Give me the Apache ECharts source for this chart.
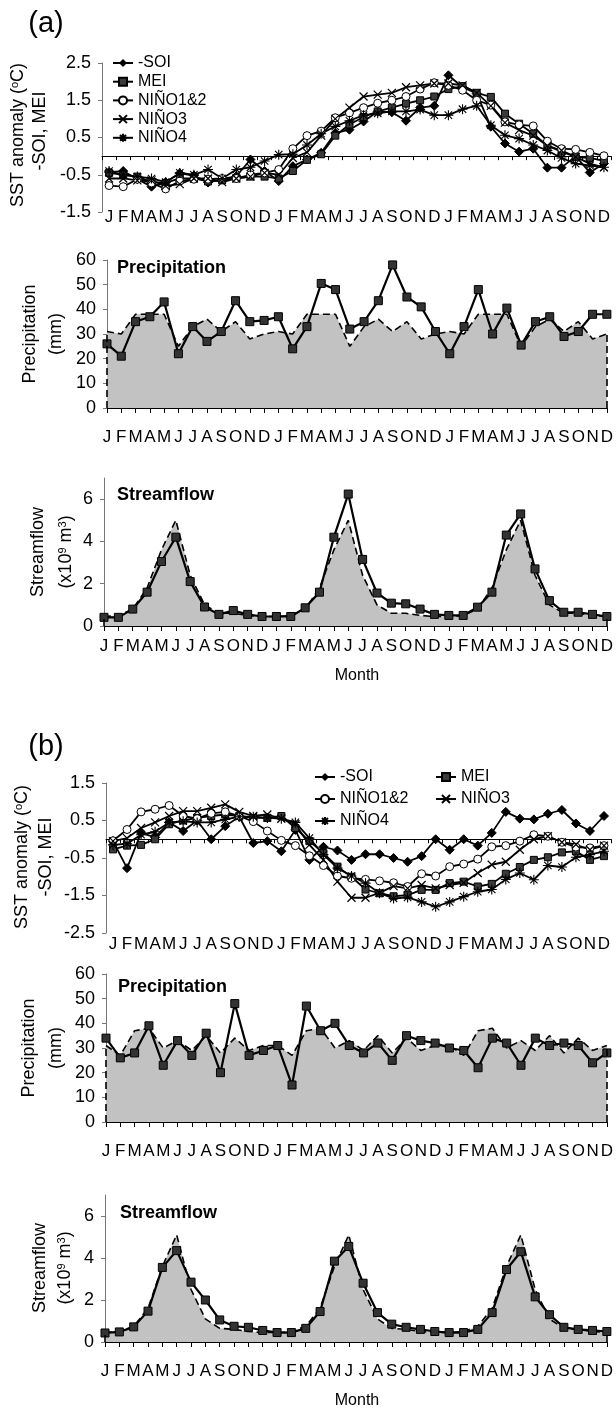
<!DOCTYPE html>
<html><head><meta charset="utf-8">
<script src="https://cdn.jsdelivr.net/npm/echarts@6/dist/echarts.min.js"></script>
<style>html,body{margin:0;padding:0;background:#fff}#c{width:616px;height:1412px}</style>
</head><body><div id="c"></div>
<script>
// ---------- categories & ticks ----------
const months = ['J','F','M','A','M','J','J','A','S','O','N','D'];
const categories = months.concat(months, months);
const sstTicksA = [-1.5, -0.5, 0.5, 1.5, 2.5];
const sstTicksB = [-2.5, -1.5, -0.5, 0.5, 1.5];
const precipTicks = [0, 10, 20, 30, 40, 50, 60];
const flowTicks = [0, 2, 4, 6];
const indexNames = ['-SOI', 'MEI', 'NIÑO1&2', 'NIÑO3', 'NIÑO4'];

// ---------- (a) SST anomaly ----------
const soiA    = [-0.43,-0.4,-0.62,-0.82,-0.7,-0.46,-0.52,-0.71,-0.62,-0.54,-0.09,-0.4,-0.67,-0.27,-0.09,0.09,0.62,0.71,0.93,1.2,1.18,0.95,1.3,1.35,2.17,1.85,1.68,0.79,0.34,0.12,0.2,-0.31,-0.31,0.0,-0.44,-0.2];
const meiA    = [-0.45,-0.5,-0.55,-0.7,-0.72,-0.6,-0.6,-0.68,-0.65,-0.6,-0.55,-0.55,-0.6,-0.4,-0.1,0.05,0.55,0.85,1.05,1.2,1.3,1.41,1.5,1.6,1.8,1.88,1.7,1.59,1.14,0.87,0.6,0.28,0.12,-0.02,-0.05,-0.13];
const nino12A = [-0.79,-0.82,-0.62,-0.72,-0.88,-0.67,-0.62,-0.62,-0.6,-0.6,-0.5,-0.45,-0.36,0.2,0.55,0.67,1.03,1.16,1.3,1.42,1.5,1.6,1.8,1.97,1.9,1.77,1.5,1.37,0.92,0.84,0.81,0.4,0.2,0.18,0.1,0.01];
const nino3A  = [-0.6,-0.6,-0.65,-0.65,-0.8,-0.75,-0.6,-0.6,-0.7,-0.6,-0.55,-0.45,-0.5,-0.05,0.1,0.55,1.0,1.3,1.6,1.65,1.7,1.85,1.9,1.95,1.95,1.9,1.7,1.35,0.9,0.7,0.55,0.28,0.15,-0.02,-0.2,-0.3];
const nino4A  = [-0.4,-0.5,-0.55,-0.6,-0.7,-0.45,-0.5,-0.36,-0.6,-0.36,-0.3,-0.13,0.04,0.05,0.3,0.6,0.8,0.95,1.1,1.15,1.2,1.2,1.25,1.1,1.1,1.26,1.35,0.83,0.56,0.47,0.3,0.15,-0.05,-0.2,-0.25,-0.3];

// ---------- (a) precipitation (mm) ----------
const precipObsA  = [26,21,35,37,43,22,33,27,31,43.5,35,35.5,37,24,33,50.5,48,32,35,43.5,58,45,41,31,22,33,48,30,40.5,25.5,35,37,29,31,38,38];
const precipClimA = [31,30,38,38,38,25,33,36,31,35,28,30,31,30,38,38,38,25,33,36,31,35,28,30,31,30,38,38,38,25,33,36,31,35,28,30];

// ---------- (a) streamflow (x10^9 m3) ----------
const flowObsA  = [0.41,0.41,0.8,1.6,3.05,4.2,2.1,0.9,0.55,0.73,0.55,0.45,0.45,0.45,0.86,1.6,4.2,6.24,3.15,1.56,1.08,1.05,0.8,0.55,0.5,0.5,0.89,1.6,4.3,5.3,2.7,1.2,0.65,0.65,0.55,0.45];
const flowClimA = [0.45,0.5,0.8,1.8,3.6,5.0,2.4,1.0,0.6,0.6,0.5,0.45,0.45,0.5,0.8,1.8,3.6,5.0,2.4,1.0,0.6,0.6,0.5,0.45,0.45,0.5,0.8,1.8,3.6,5.0,2.4,1.0,0.6,0.6,0.5,0.45];

// ---------- (b) SST anomaly ----------
const soiB    = [-0.05,-0.77,0.17,0.05,0.45,0.22,0.5,0.0,0.35,0.6,-0.1,-0.05,-0.32,0.25,-0.55,-0.2,-0.3,-0.55,-0.4,-0.4,-0.5,-0.6,-0.45,0.0,-0.28,0.0,-0.17,0.17,0.73,0.55,0.53,0.68,0.78,0.42,0.22,0.62];
const meiB    = [-0.27,-0.17,-0.15,0.0,0.4,0.5,0.57,0.62,0.66,0.62,0.57,0.57,0.62,0.3,-0.05,-0.37,-0.73,-1.0,-1.34,-1.44,-1.52,-1.49,-1.35,-1.35,-1.17,-1.13,-1.26,-1.19,-0.92,-0.74,-0.55,-0.48,-0.35,-0.32,-0.55,-0.45];
const nino12B = [-0.04,0.26,0.73,0.8,0.9,0.62,0.55,0.69,0.73,0.62,0.47,0.22,-0.03,-0.17,-0.44,-0.7,-0.98,-1.04,-1.07,-1.11,-1.16,-1.26,-0.92,-0.98,-0.73,-0.66,-0.53,-0.2,-0.17,-0.05,0.12,0.08,-0.08,-0.21,-0.23,-0.17];
const nino3B  = [-0.05,0.03,0.3,0.45,0.62,0.75,0.75,0.84,0.93,0.73,0.62,0.66,0.55,0.4,-0.15,-0.55,-1.13,-1.56,-1.56,-1.43,-1.25,-1.31,-1.22,-1.31,-1.22,-1.16,-0.9,-0.68,-0.6,-0.28,0.0,0.08,-0.08,-0.14,-0.28,-0.17];
const nino4B  = [-0.15,-0.12,0.12,0.2,0.45,0.48,0.45,0.45,0.53,0.6,0.6,0.57,0.55,0.45,0.03,-0.41,-0.77,-0.98,-1.17,-1.44,-1.58,-1.55,-1.67,-1.8,-1.67,-1.53,-1.4,-1.34,-1.07,-0.9,-1.08,-0.7,-0.74,-0.48,-0.41,-0.32];

// ---------- (b) precipitation (mm) ----------
const precipObsB  = [34,26,28,39,23,33,27,36,20,48,27,29,31,15,47,37,40,31,28,32,25,35,33,32,30,29,22,34,32,23,34,31,32,31,24,28];
const precipClimB = [31,27,37,38,30,33,29,35,28,34,29,31,31,27,37,38,30,33,29,35,28,34,29,31,31,27,37,38,30,33,29,35,28,34,29,31];

// ---------- (b) streamflow (x10^9 m3) ----------
const flowObsB  = [0.43,0.48,0.72,1.47,3.55,4.35,2.85,2.0,1.05,0.75,0.7,0.55,0.45,0.45,0.65,1.45,3.85,4.55,2.8,1.4,0.85,0.7,0.6,0.5,0.45,0.45,0.6,1.4,3.45,4.3,2.15,1.3,0.7,0.6,0.55,0.5];
const flowClimB = [0.45,0.5,0.75,1.6,3.6,5.1,2.5,1.1,0.65,0.6,0.5,0.45,0.45,0.5,0.75,1.6,3.6,5.1,2.5,1.1,0.65,0.6,0.5,0.45,0.45,0.5,0.75,1.6,3.6,5.1,2.5,1.1,0.65,0.6,0.5,0.45];

// ---------- styling / layout ----------
const FONT = '"Liberation Sans", Arial, sans-serif';
const crossPath = 'path://M0,0L10,10M10,0L0,10';
const starPath = 'path://M5,0L5,10M0,5L10,5M1.3,1.3L8.7,8.7M8.7,1.3L1.3,8.7';

const grids = [
  {left:102, top:63,   width:509, height:149},   // SST a
  {left:107, top:260,  width:501, height:148},   // precip a
  {left:104, top:478,  width:504, height:148},   // flow a
  {left:106, top:783,  width:505, height:150},   // SST b
  {left:106, top:974,  width:502, height:148},   // precip b
  {left:105, top:1195, width:503, height:147}    // flow b
];

function monthLabel(margin) {
  return {show: true, interval: 0, margin: margin, color: '#000', fontSize: 17, fontFamily: FONT};
}
function xZero(gi) {
  return {type:'category', gridIndex:gi, data:categories, boundaryGap:true,
    axisLine:{onZero:true, lineStyle:{color:'#000', width:1}},
    axisTick:{show:true, interval:0, length:4, lineStyle:{color:'#000'}},
    axisLabel:{show:false}, splitLine:{show:false}};
}
function xBottomLabels(gi, margin) {
  return {type:'category', gridIndex:gi, data:categories, boundaryGap:true, position:'bottom',
    axisLine:{show:false, onZero:false}, axisTick:{show:false},
    axisLabel:monthLabel(margin), splitLine:{show:false}};
}
function xFlat(gi, margin) {
  return {type:'category', gridIndex:gi, data:categories, boundaryGap:false,
    axisLine:{onZero:false, lineStyle:{color:'#000', width:1}},
    axisTick:{show:true, interval:0, length:5, lineStyle:{color:'#000'}},
    axisLabel:monthLabel(margin), splitLine:{show:false}};
}
function yVal(gi, min, max, interval, ticks) {
  return {type:'value', gridIndex:gi, min:min, max:max, interval:interval,
    axisLine:{show:true, lineStyle:{color:'#777', width:1}},
    axisTick:{show:true, length:4, lineStyle:{color:'#777'}, customValues:ticks},
    axisLabel:{color:'#000', fontSize:18, fontFamily:FONT, margin:11, customValues:ticks},
    splitLine:{show:false}};
}

function sstSeries(xi, yi, d) {
  const base = {type:'line', xAxisIndex:xi, yAxisIndex:yi, showAllSymbol:true, z:3,
    lineStyle:{color:'#000', width:1.8}, emphasis:{disabled:true}};
  return [
    Object.assign({}, base, {name:indexNames[0], data:d[0], symbol:'diamond', symbolSize:9,
      itemStyle:{color:'#000', borderColor:'#000'}}),
    Object.assign({}, base, {name:indexNames[1], data:d[1], symbol:'rect', symbolSize:7,
      itemStyle:{color:'#3a3a3a', borderColor:'#000', borderWidth:1}}),
    Object.assign({}, base, {name:indexNames[2], data:d[2], symbol:'circle', symbolSize:8,
      itemStyle:{color:'#fff', borderColor:'#000', borderWidth:1}}),
    Object.assign({}, base, {name:indexNames[3], data:d[3], symbol:crossPath, symbolSize:8,
      itemStyle:{color:'none', borderColor:'#000', borderWidth:1.2}}),
    Object.assign({}, base, {name:indexNames[4], data:d[4], symbol:starPath, symbolSize:10,
      itemStyle:{color:'none', borderColor:'#000', borderWidth:1.1}})
  ];
}
function pairSeries(xi, yi, obs, clim, tag) {
  const last = clim.length - 1;
  return [
    {name:'clim ' + tag, type:'line', xAxisIndex:xi, yAxisIndex:yi, data:clim, symbol:'none', z:2,
      lineStyle:{color:'#000', width:1.6, type:[7,4]},
      areaStyle:{color:'#c2c2c2', opacity:1}, emphasis:{disabled:true},
      markLine:{silent:true, symbol:'none', label:{show:false},
        lineStyle:{color:'#000', width:1.6, type:[7,4]},
        data:[[{coord:[0,0]},{coord:[0,clim[0]]}],[{coord:[last,0]},{coord:[last,clim[last]]}]]}},
    {name:'obs ' + tag, type:'line', xAxisIndex:xi, yAxisIndex:yi, data:obs, showAllSymbol:true, z:3,
      symbol:'rect', symbolSize:8, itemStyle:{color:'#333', borderColor:'#000', borderWidth:1},
      lineStyle:{color:'#000', width:2.2}, emphasis:{disabled:true}}
  ];
}

const xAxes = [
  xZero(0), xBottomLabels(0, -3),
  xFlat(1, 21),
  xFlat(2, 12),
  xZero(3), xBottomLabels(3, 3),
  xFlat(4, 21),
  xFlat(5, 21)
];
const yAxes = [
  yVal(0, -1.5, 2.5, 0.5, sstTicksA),
  yVal(1, 0, 60, 10, precipTicks),
  yVal(2, 0, 7, 1, flowTicks),
  yVal(3, -2.5, 1.5, 0.5, sstTicksB),
  yVal(4, 0, 60, 10, precipTicks),
  yVal(5, 0, 7, 1, flowTicks)
];

const series = [].concat(
  sstSeries(0, 0, [soiA, meiA, nino12A, nino3A, nino4A]),
  pairSeries(2, 1, precipObsA, precipClimA, 'Pa'),
  pairSeries(3, 2, flowObsA, flowClimA, 'Fa'),
  sstSeries(4, 3, [soiB, meiB, nino12B, nino3B, nino4B]),
  pairSeries(6, 4, precipObsB, precipClimB, 'Pb'),
  pairSeries(7, 5, flowObsB, flowClimB, 'Fb')
);

const legendText = {fontSize:16, fontFamily:FONT, color:'#000'};
const legends = [
  {data:indexNames, orient:'vertical', left:112, top:55, padding:0, itemWidth:20, itemHeight:10,
    itemGap:2.7, selectedMode:false, textStyle:legendText},
  {data:[indexNames[0], indexNames[2], indexNames[4]], orient:'vertical', left:314, top:769, padding:0,
    itemWidth:20, itemHeight:10, itemGap:6, selectedMode:false, textStyle:legendText},
  {data:[indexNames[1], indexNames[3]], orient:'vertical', left:435, top:769, padding:0,
    itemWidth:20, itemHeight:10, itemGap:6, selectedMode:false, textStyle:legendText}
];

const sup = {fontSize:11, verticalAlign:'top', fontFamily:FONT, fill:'#000'};
function vText(x, y, text) {
  return {type:'text', x:x, y:y, rotation:Math.PI/2, silent:true,
    style:{text:text, fill:'#000', font:'18px ' + FONT, align:'center', verticalAlign:'middle',
      rich:{sup:sup}}};
}
function hText(x, y, text, font, align) {
  return {type:'text', x:x, y:y, silent:true,
    style:{text:text, fill:'#000', font:font, align:align || 'left', verticalAlign:'middle'}};
}
const graphics = [
  hText(46, 24, '(a)', '29px ' + FONT, 'center'),
  hText(46, 747, '(b)', '29px ' + FONT, 'center'),
  vText(18, 135, 'SST anomaly ({sup|o}C)'),
  vText(40, 131, '-SOI, MEI'),
  vText(22, 857, 'SST anomaly ({sup|o}C)'),
  vText(46, 857, '-SOI, MEI'),
  vText(30, 334, 'Precipitation'),
  vText(56, 334, '(mm)'),
  vText(29, 1048, 'Precipitation'),
  vText(56, 1048, '(mm)'),
  vText(38, 552, 'Streamflow'),
  vText(66, 552, '(x10{sup|9} m{sup|3})'),
  vText(40, 1268, 'Streamflow'),
  vText(65, 1268, '(x10{sup|9} m{sup|3})'),
  hText(117, 268, 'Precipitation', 'bold 18px ' + FONT),
  hText(118, 987, 'Precipitation', 'bold 18px ' + FONT),
  hText(117, 495, 'Streamflow', 'bold 18px ' + FONT),
  hText(120, 1213, 'Streamflow', 'bold 18px ' + FONT),
  hText(357, 676, 'Month', '16px ' + FONT, 'center'),
  hText(357, 1401, 'Month', '16px ' + FONT, 'center')
];

const chart = echarts.init(document.getElementById('c'), null, {renderer:'canvas'});
chart.setOption({
  animation:false,
  backgroundColor:'#fff',
  textStyle:{fontFamily:FONT},
  grid:grids,
  xAxis:xAxes,
  yAxis:yAxes,
  legend:legends,
  series:series,
  graphic:graphics
});
</script>
</body></html>
